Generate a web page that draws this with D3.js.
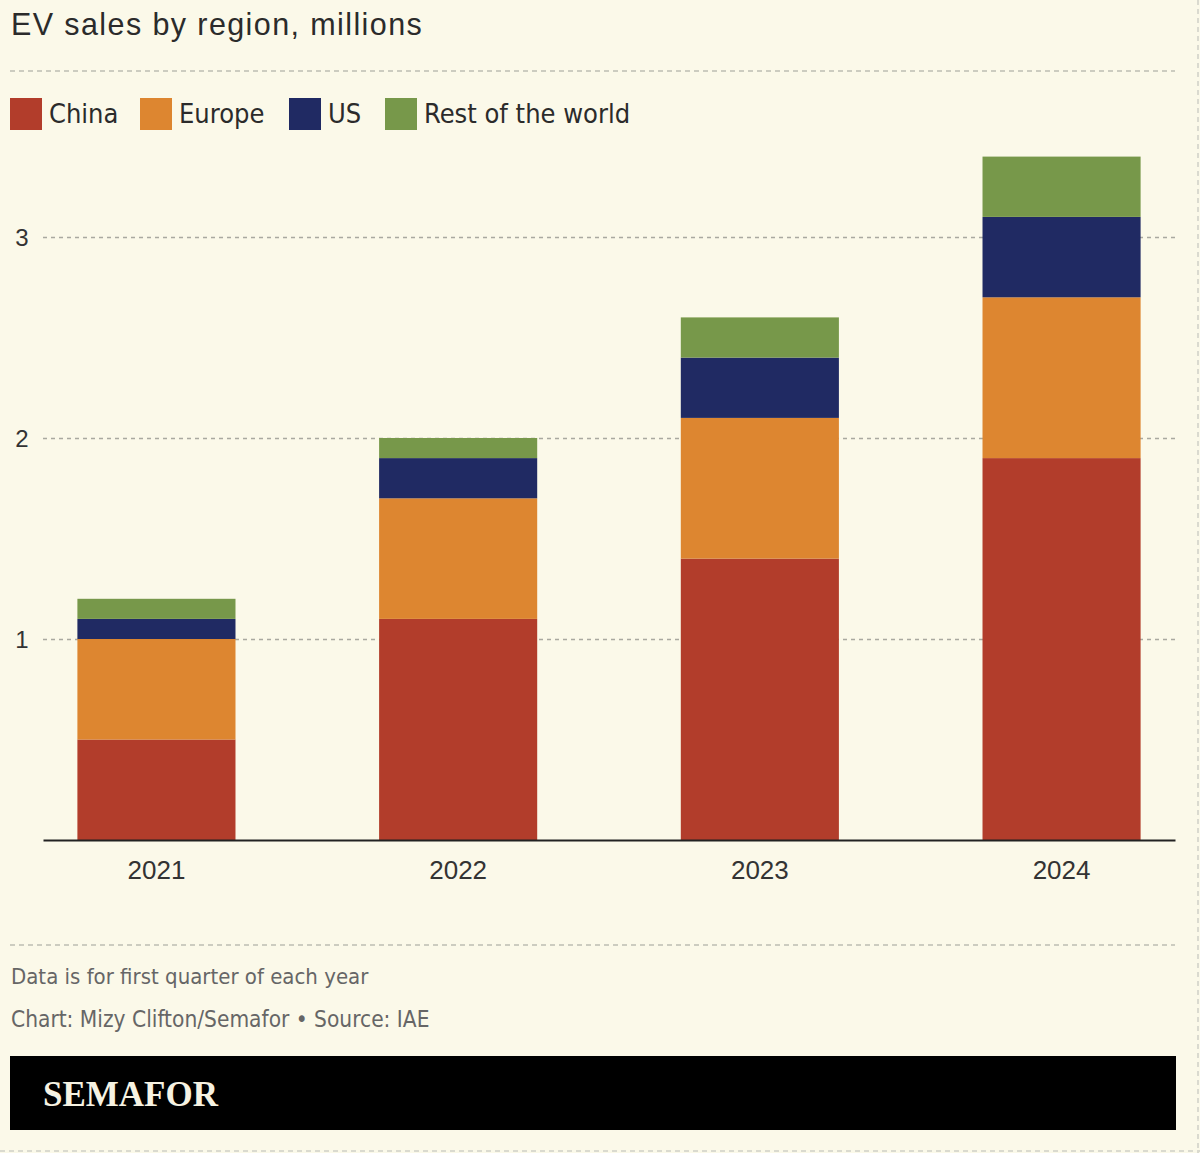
<!DOCTYPE html>
<html>
<head>
<meta charset="utf-8">
<script src="https://cdn.jsdelivr.net/npm/d3@7"></script>
<style>
html,body{margin:0;padding:0;background:#fbf9e9;}
svg{display:block;}
</style>
</head>
<body>
<script>
const years = ["2021", "2022", "2023", "2024"];
const seriesNames = ["China", "Europe", "US", "Rest of the world"];
const china = [0.5, 1.1, 1.4, 1.9];
const europe = [0.5, 0.6, 0.7, 0.8];
const us = [0.1, 0.2, 0.3, 0.4];
const rest = [0.1, 0.1, 0.2, 0.3];
const yTicks = [1, 2, 3];
const colors = ["#b23d2b", "#dd8630", "#202a63", "#77984a"];

const W = 1200, H = 1153;
const condensed = '"Liberation Sans Narrow", "DejaVu Sans Condensed", "Roboto", sans-serif';
const plain = '"Liberation Sans", Arial, sans-serif';

const svg = d3.select("body").append("svg").attr("width", W).attr("height", H);
svg.append("rect").attr("width", W).attr("height", H).attr("fill", "#fbf9e9");

// title
svg.append("text").attr("x", 11).attr("y", 35).text("EV sales by region, millions")
  .attr("font-family", plain).attr("font-size", 30.5).attr("letter-spacing", 1.4).attr("fill", "#2b2b2b");

// top separator
svg.append("line").attr("x1", 10).attr("x2", 1175).attr("y1", 71).attr("y2", 71)
  .attr("stroke", "#bdbdb3").attr("stroke-width", 1.5).attr("stroke-dasharray", "5,4");

// legend
const legendX = [10, 140, 289, 385];
const lg = svg.append("g");
seriesNames.forEach((n, i) => {
  lg.append("rect").attr("x", legendX[i]).attr("y", 98).attr("width", 32).attr("height", 32).attr("fill", colors[i]);
  lg.append("text").attr("x", legendX[i] + 39).attr("y", 123).text(n)
    .attr("font-family", condensed).attr("font-size", 27).attr("fill", "#2b2b2b");
});

// scales
const x = d3.scaleBand().domain(years).range([43, 1175]).paddingInner(0.476).paddingOuter(0.114);
const y = d3.scaleLinear().domain([0, 3]).range([840, 237]);

// gridlines
const grid = svg.append("g").attr("transform", "translate(43,0)")
  .call(d3.axisLeft(y).tickValues(yTicks).tickSize(-(1175 - 43)).tickFormat(""));
grid.select(".domain").remove();
grid.selectAll(".tick line").attr("stroke", "#a9a9a0").attr("stroke-width", 1.3).attr("stroke-dasharray", "4,4");

// y labels
const yl = svg.append("g").attr("transform", "translate(30,0)")
  .call(d3.axisLeft(y).tickValues(yTicks).tickSize(0).tickPadding(0).tickFormat(d3.format("d")));
yl.select(".domain").remove();
yl.selectAll("text").attr("font-family", plain).attr("font-size", 24).attr("fill", "#333").attr("text-anchor", "middle").attr("x", -8).attr("dy", "0.35em");

// stack
const table = years.map((yr, i) => ({year: yr, China: china[i], Europe: europe[i], US: us[i], "Rest of the world": rest[i]}));
const stacked = d3.stack().keys(seriesNames)(table);
svg.append("g").selectAll("g").data(stacked).join("g").attr("fill", (d, i) => colors[i])
  .selectAll("rect").data(d => d).join("rect")
  .attr("x", d => x(d.data.year)).attr("width", x.bandwidth())
  .attr("y", d => y(d[1])).attr("height", d => y(d[0]) - y(d[1]));

// x axis
const xa = svg.append("g").attr("transform", "translate(0,840)")
  .call(d3.axisBottom(x).tickSize(0).tickPadding(21));
xa.select(".domain").attr("stroke", "#222").attr("stroke-width", 2);
xa.selectAll("text").attr("font-family", plain).attr("font-size", 26).attr("fill", "#333");

// bottom separator
svg.append("line").attr("x1", 10).attr("x2", 1175).attr("y1", 945).attr("y2", 945)
  .attr("stroke", "#bdbdb3").attr("stroke-width", 1.5).attr("stroke-dasharray", "5,4");

svg.append("text").attr("x", 11).attr("y", 984).text("Data is for first quarter of each year")
  .attr("font-family", condensed).attr("font-size", 22).attr("fill", "#666");
svg.append("text").attr("x", 11).attr("y", 1027).text("Chart: Mizy Clifton/Semafor \u2022 Source: IAE")
  .attr("font-family", condensed).attr("font-size", 22.5).attr("fill", "#666");

// footer bar
svg.append("rect").attr("x", 10).attr("y", 1056).attr("width", 1166).attr("height", 74).attr("fill", "#000");
svg.append("text").attr("x", 43).attr("y", 1106).text("SEMAFOR")
  .attr("font-family", '"Liberation Serif", "DejaVu Serif", serif').attr("font-weight", "bold")
  .attr("font-size", 35).attr("fill", "#f6f2e2");

// dashed page borders
svg.append("line").attr("x1", 1198).attr("x2", 1198).attr("y1", 0).attr("y2", H)
  .attr("stroke", "#d0d0c6").attr("stroke-width", 1.5).attr("stroke-dasharray", "5,4");
svg.append("line").attr("x1", 0).attr("x2", W).attr("y1", 1151).attr("y2", 1151)
  .attr("stroke", "#d0d0c6").attr("stroke-width", 1.5).attr("stroke-dasharray", "5,4");
</script>
</body>
</html>
